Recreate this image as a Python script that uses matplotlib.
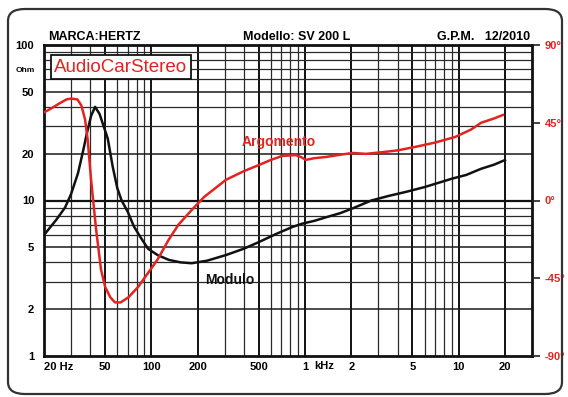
import numpy as np
import matplotlib
matplotlib.use("Agg")
import matplotlib.pyplot as plt
from matplotlib.patches import FancyBboxPatch
import matplotlib.transforms as mtransforms

plt.rcParams["font.family"] = ["Liberation Sans", "DejaVu Sans"]
plt.rcParams["font.weight"] = "bold"

# ── data ──────────────────────────────────────────────────────────────────────
freq_mod = [20, 24, 27.4, 30, 33.3, 36, 38, 40.5, 43, 46, 52, 56, 60, 64, 70, 77,
            85, 95, 110, 130, 155, 183, 230, 306, 400, 500, 650, 825, 960, 1150,
            1370, 1700, 2040, 2700, 3500, 4600, 6000, 7400, 9000, 11200, 14000,
            17000, 20000]
modulo = [6.0, 7.5, 9.0, 11, 15, 21, 27, 35, 40, 36, 25, 16.5, 12, 10, 8.5, 6.8,
          5.8, 4.9, 4.45, 4.15, 4.0, 3.95, 4.1, 4.46, 4.9, 5.4, 6.1, 6.75, 7.1, 7.4,
          7.8, 8.3, 8.9, 10, 10.7, 11.4, 12.2, 13, 13.8, 14.6, 16, 17, 18.2]

freq_arg = [20, 22, 25, 28, 30, 33, 35, 37, 38.5, 40.5, 42, 43.7, 47, 50, 54, 58,
            63, 71, 82, 95, 110, 129, 150, 183, 220, 306, 400, 500, 600, 710, 870,
            950, 1010, 1150, 1370, 1700, 2040, 2500, 3200, 4000, 5200, 7000, 9500,
            12000, 14000, 17000, 19400]
argomento = [51, 53, 56, 58.5, 59, 58.5, 55, 47, 35, 12, -2, -17, -40, -50, -56, -59,
             -59, -56, -50, -42, -34, -23, -14, -5.5, 2, 12, 17, 20.5, 23.5, 25.8, 26.3,
             25, 23.5, 24.5, 25.2, 26.5, 27.5, 27, 28, 29, 31, 33.5, 36.8,
             41, 45, 47.5, 49.5]

x_ticks = [20, 50, 100, 200, 500, 1000, 2000, 5000, 10000, 20000]
x_labels = ["20 Hz", "50", "100", "200", "500", "1", "2", "5", "10", "20"]
y_ticks = [1, 2, 5, 10, 20, 50, 100]
y_labels = ["1", "2", "5", "10", "20", "50", "100"]
ph_ticks = [-90, -45, 0, 45, 90]
ph_labels = ["-90°", "-45°", "0°", "45°", "90°"]

red = "#e3231f"

fig = plt.figure(figsize=(5.68, 3.97), dpi=100)
fig.patch.set_facecolor("white")

# rounded frame round the sheet
frame = FancyBboxPatch((8 / 568, 3 / 397), 554 / 568, 385 / 397,
                       boxstyle="round,pad=0,rounding_size=0.03",
                       transform=fig.transFigure, fill=False,
                       edgecolor="#333333", lw=1.6)
fig.patches.append(frame)

ax = fig.add_axes([44 / 568, 1 - 356 / 397, 488 / 568, 311 / 397])
ax.set_xscale("log")
ax.set_yscale("log")
ax.set_xlim(20, 30000)
ax.set_ylim(1, 100)

# grid
minor_x = [f * m for m in (10, 100, 1000) for f in (3, 4, 6, 7, 8, 9)]
major_x = [50, 100, 200, 500, 1000, 2000, 5000, 10000, 20000]
for v in minor_x:
    ax.axvline(v, color="#2a2a2a", lw=0.9, zorder=1)
for v in major_x:
    ax.axvline(v, color="#111111", lw=1.4, zorder=1)
minor_y = [3, 4, 6, 7, 8, 9, 30, 40, 60, 70, 80, 90]
for v in minor_y:
    ax.axhline(v, color="#2a2a2a", lw=0.9, zorder=1)
for v in [2, 5, 20, 50]:
    ax.axhline(v, color="#1a1a1a", lw=1.1, zorder=1)
ax.axhline(10, color="#111111", lw=1.6, zorder=1)

for s in ax.spines.values():
    s.set_linewidth(2.0)
    s.set_color("#111111")

ax.set_xticks(x_ticks)
ax.set_xticklabels(x_labels)
ax.xaxis.set_minor_locator(matplotlib.ticker.NullLocator())
ax.set_yticks(y_ticks)
ax.set_yticklabels(y_labels)
ax.yaxis.set_minor_locator(matplotlib.ticker.NullLocator())
ax.tick_params(axis="both", length=0, labelsize=8)
ax.tick_params(axis="x", pad=4)
ax.tick_params(axis="y", pad=7)
for lbl in ax.get_xticklabels() + ax.get_yticklabels():
    lbl.set_fontweight("bold")
ax.get_xticklabels()[0].set_ha("left")

trans_y = mtransforms.blended_transform_factory(ax.transAxes, ax.transData)
ax.text(-0.018, 69, "Ohm", transform=trans_y, ha="right", va="center",
        fontsize=6, fontweight="bold")
trans_x = mtransforms.blended_transform_factory(ax.transData, ax.transAxes)
ax.text(1330, -0.016, "kHz", transform=trans_x, ha="center", va="top",
        fontsize=8, fontweight="bold")

ax.plot(freq_mod, modulo, color="#111111", lw=1.8, zorder=4)

ax2 = ax.twinx()
ax2.set_ylim(-90, 90)
ax2.plot(freq_arg, argomento, color=red, lw=1.8, zorder=5)
ax2.set_yticks(ph_ticks)
ax2.set_yticklabels(ph_labels)
ax2.tick_params(axis="y", length=6, width=1.2, color="#222222", pad=3,
                labelsize=8, labelcolor=red)
for lbl in ax2.get_yticklabels():
    lbl.set_fontweight("bold")
for s in ax2.spines.values():
    s.set_visible(False)

ax.text(678, 23.7, "Argomento", color=red, fontsize=10, fontweight="bold",
        ha="center", va="center", zorder=6)
ax.text(325, 3.08, "Modulo", color="#111111", fontsize=10, fontweight="bold",
        ha="center", va="center", zorder=6)

# header
ty = 1 - 37 / 397
fig.text(48 / 568, ty, "MARCA:HERTZ", fontsize=9, fontweight="bold", ha="left", va="center")
fig.text(297 / 568, ty, "Modello: SV 200 L", fontsize=9, fontweight="bold", ha="center", va="center")
fig.text(530 / 568, ty, "G.P.M.   12/2010", fontsize=9, fontweight="bold", ha="right", va="center")

# logo
fig.text(121 / 568, 1 - 67 / 397, "AudioCarStereo", color=red, fontsize=13.5,
         fontweight="normal", ha="center", va="center",
         bbox=dict(boxstyle="square,pad=0.18", facecolor="white",
                   edgecolor="#111111", lw=1.3), zorder=10)

fig.savefig("out.png", dpi=100)
